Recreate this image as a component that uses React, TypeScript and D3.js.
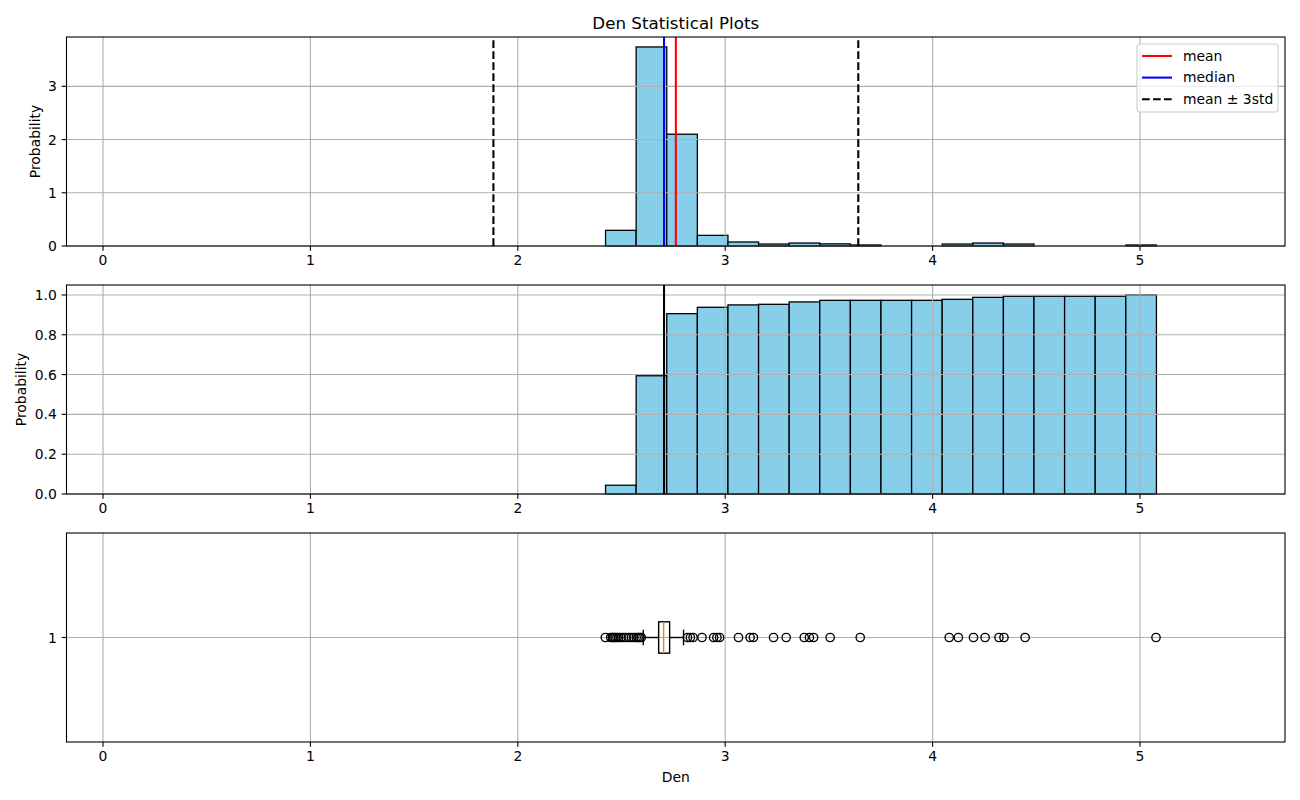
import React from "react";
import * as d3 from "d3";

// ---------------- data ----------------
const binStart = 2.423;
const binWidth = 0.14756;
const densityValues = [0.294, 3.74, 2.1, 0.2, 0.075, 0.037, 0.056, 0.04, 0.019, 0, 0, 0.037, 0.056, 0.037, 0, 0, 0, 0.019];
const cumulativeValues = [0.044, 0.594, 0.906, 0.938, 0.95, 0.953, 0.965, 0.973, 0.973, 0.973, 0.973, 0.978, 0.988, 0.9935, 0.9935, 0.9935, 0.9935, 1.0];
const meanValue = 2.762;
const medianValue = 2.705;
const stdValue = 0.2932;
const boxQ1 = 2.679;
const boxMedian = 2.703;
const boxQ3 = 2.732;
const whiskerLow = 2.605;
const whiskerHigh = 2.799;
const outliers = [
  2.422, 2.448, 2.456, 2.463, 2.47, 2.478, 2.487, 2.497, 2.51, 2.522, 2.536, 2.548, 2.56, 2.571, 2.58, 2.588, 2.595,
  2.818, 2.832, 2.845, 2.888, 2.944, 2.96, 2.973, 3.064, 3.12, 3.136, 3.233, 3.294, 3.381, 3.406, 3.426, 3.506, 3.651,
  4.08, 4.124, 4.197, 4.253, 4.32, 4.344, 4.446, 5.077,
];
const xTicks = [0, 1, 2, 3, 4, 5];
const densityTicks = [0, 1, 2, 3];
const cdfTicks = [0, 0.2, 0.4, 0.6, 0.8, 1.0];
const boxTicks = [1];
const xLimits: [number, number] = [-0.176, 5.699];
const legendItems = [
  { label: "mean", color: "#ff0000", dash: "" },
  { label: "median", color: "#0000ff", dash: "" },
  { label: "mean \u00b1 3std", color: "#000000", dash: "7.7,3.3" },
];

// ---------------- layout ----------------
const W = 1300;
const H = 800;
const left = 66.5;
const right = 1285;
const tops = [37, 285, 533];
const panelH = 209;
const FONT = "DejaVu Sans, sans-serif";
const FS = 13.9;
const GRID = "#b0b0b0";
const BAR = "#87ceeb";

const x = d3.scaleLinear().domain(xLimits).range([left, right]);

function XAxis({ bottom }: { bottom: number }) {
  return (
    <g>
      {xTicks.map((t) => (
        <g key={t}>
          <line x1={x(t)} x2={x(t)} y1={bottom} y2={bottom + 4.86} stroke="#000" strokeWidth={1.1} />
          <text x={x(t)} y={bottom + 19} textAnchor="middle" fontSize={FS} fontFamily={FONT} fill="#000">
            {String(t)}
          </text>
        </g>
      ))}
    </g>
  );
}

function YAxis({ scale, ticks, fmt }: { scale: d3.ScaleLinear<number, number>; ticks: number[]; fmt: (v: number) => string }) {
  return (
    <g>
      {ticks.map((t) => (
        <g key={t}>
          <line x1={left - 4.86} x2={left} y1={scale(t)} y2={scale(t)} stroke="#000" strokeWidth={1.1} />
          <text x={left - 9.7} y={scale(t)} dy="0.36em" textAnchor="end" fontSize={FS} fontFamily={FONT} fill="#000">
            {fmt(t)}
          </text>
        </g>
      ))}
    </g>
  );
}

function Grid({ scale, ticks, top }: { scale: d3.ScaleLinear<number, number>; ticks: number[]; top: number }) {
  return (
    <g>
      {xTicks.map((t) => (
        <line key={"gx" + t} x1={x(t)} x2={x(t)} y1={top} y2={top + panelH} stroke={GRID} strokeWidth={1.1} />
      ))}
      {ticks.map((t) => (
        <line key={"gy" + t} x1={left} x2={right} y1={scale(t)} y2={scale(t)} stroke={GRID} strokeWidth={1.1} />
      ))}
    </g>
  );
}

function Frame({ top }: { top: number }) {
  return <rect x={left} y={top} width={right - left} height={panelH} fill="none" stroke="#000" strokeWidth={1.1} />;
}

function Bars({ values, scale }: { values: number[]; scale: d3.ScaleLinear<number, number> }) {
  return (
    <g>
      {values.map((v, i) => {
        const x0 = x(binStart + i * binWidth);
        const x1 = x(binStart + (i + 1) * binWidth);
        const y0 = scale(0);
        const y1 = scale(v);
        return (
          <rect key={i} x={x0} y={y1} width={x1 - x0} height={Math.max(0, y0 - y1)} fill={BAR} stroke="#000" strokeWidth={1.3} />
        );
      })}
    </g>
  );
}

export default function App() {
  const bottoms = tops.map((t) => t + panelH);
  const yDen = d3.scaleLinear().domain([0, (d3.max(densityValues) as number) * 1.05]).range([bottoms[0], tops[0]]);
  const yCdf = d3.scaleLinear().domain([0, (d3.max(cumulativeValues) as number) * 1.05]).range([bottoms[1], tops[1]]);
  const yBox = d3.scaleLinear().domain([0.5, 1.5]).range([bottoms[2], tops[2]]);

  const lo = meanValue - 3 * stdValue;
  const hi = meanValue + 3 * stdValue;

  const boxHalf = yBox(1) - yBox(1.075);
  const capHalf = yBox(1) - yBox(1.0375);
  const yc = yBox(1);

  const legX = 1137;
  const legY = 44;

  return (
    <svg width={W} height={H} style={{ position: "absolute", left: 0, top: 0, background: "#fff" }} xmlns="http://www.w3.org/2000/svg">
      <rect x={0} y={0} width={W} height={H} fill="#fff" />
      <text x={(left + right) / 2} y={28.7} textAnchor="middle" fontSize={16.7} fontFamily={FONT} fill="#000">
        Den Statistical Plots
      </text>

      {/* Panel 1: density histogram */}
      <g>
        <Bars values={densityValues} scale={yDen} />
        <Grid scale={yDen} ticks={densityTicks} top={tops[0]} />
        <line x1={x(meanValue)} x2={x(meanValue)} y1={bottoms[0]} y2={tops[0]} stroke="#ff0000" strokeWidth={2.08} />
        <line x1={x(medianValue)} x2={x(medianValue)} y1={bottoms[0]} y2={tops[0]} stroke="#0000ff" strokeWidth={2.08} />
        <line x1={x(lo)} x2={x(lo)} y1={bottoms[0]} y2={tops[0]} stroke="#000" strokeWidth={2.08} strokeDasharray="7.7,3.3" />
        <line x1={x(hi)} x2={x(hi)} y1={bottoms[0]} y2={tops[0]} stroke="#000" strokeWidth={2.08} strokeDasharray="7.7,3.3" />
        <Frame top={tops[0]} />
        <XAxis bottom={bottoms[0]} />
        <YAxis scale={yDen} ticks={densityTicks} fmt={(v) => String(v)} />
        <text transform={`translate(39.5, ${tops[0] + panelH / 2}) rotate(-90)`} textAnchor="middle" fontSize={FS} fontFamily={FONT} fill="#000">
          Probability
        </text>
        <g>
          <rect x={legX} y={legY} width={141} height={68} rx={2.8} fill="#fff" fillOpacity={0.8} stroke="#cccccc" strokeWidth={1.1} />
          {legendItems.map((d, i) => {
            const ly = 56 + i * 21.6;
            return (
              <g key={d.label}>
                <line x1={1142} x2={1172} y1={ly} y2={ly} stroke={d.color} strokeWidth={2.08} strokeDasharray={d.dash || undefined} />
                <text x={1183} y={ly + 4.7} fontSize={FS} fontFamily={FONT} fill="#000">
                  {d.label}
                </text>
              </g>
            );
          })}
        </g>
      </g>

      {/* Panel 2: cumulative histogram */}
      <g>
        <Bars values={cumulativeValues} scale={yCdf} />
        <Grid scale={yCdf} ticks={cdfTicks} top={tops[1]} />
        <line x1={x(medianValue)} x2={x(medianValue)} y1={bottoms[1]} y2={tops[1]} stroke="#000" strokeWidth={2.08} />
        <Frame top={tops[1]} />
        <XAxis bottom={bottoms[1]} />
        <YAxis scale={yCdf} ticks={cdfTicks} fmt={(v) => v.toFixed(1)} />
        <text transform={`translate(25.5, ${tops[1] + panelH / 2}) rotate(-90)`} textAnchor="middle" fontSize={FS} fontFamily={FONT} fill="#000">
          Probability
        </text>
      </g>

      {/* Panel 3: box plot */}
      <g>
        <Grid scale={yBox} ticks={boxTicks} top={tops[2]} />
        <line x1={x(whiskerLow)} x2={x(boxQ1)} y1={yc} y2={yc} stroke="#000" strokeWidth={1.4} />
        <line x1={x(boxQ3)} x2={x(whiskerHigh)} y1={yc} y2={yc} stroke="#000" strokeWidth={1.4} />
        <line x1={x(whiskerLow)} x2={x(whiskerLow)} y1={yc - capHalf} y2={yc + capHalf} stroke="#000" strokeWidth={1.4} />
        <line x1={x(whiskerHigh)} x2={x(whiskerHigh)} y1={yc - capHalf} y2={yc + capHalf} stroke="#000" strokeWidth={1.4} />
        <rect x={x(boxQ1)} y={yc - boxHalf} width={x(boxQ3) - x(boxQ1)} height={boxHalf * 2} fill="none" stroke="#000" strokeWidth={1.4} />
        <line x1={x(boxMedian)} x2={x(boxMedian)} y1={yc - boxHalf} y2={yc + boxHalf} stroke="#ff7f0e" strokeWidth={1.4} />
        {outliers.map((v, i) => (
          <circle key={i} cx={x(v)} cy={yc} r={4.17} fill="none" stroke="#000" strokeWidth={1.35} />
        ))}
        <Frame top={tops[2]} />
        <XAxis bottom={bottoms[2]} />
        <YAxis scale={yBox} ticks={boxTicks} fmt={(v) => String(v)} />
        <text x={(left + right) / 2} y={782} textAnchor="middle" fontSize={FS} fontFamily={FONT} fill="#000">
          Den
        </text>
      </g>
    </svg>
  );
}
